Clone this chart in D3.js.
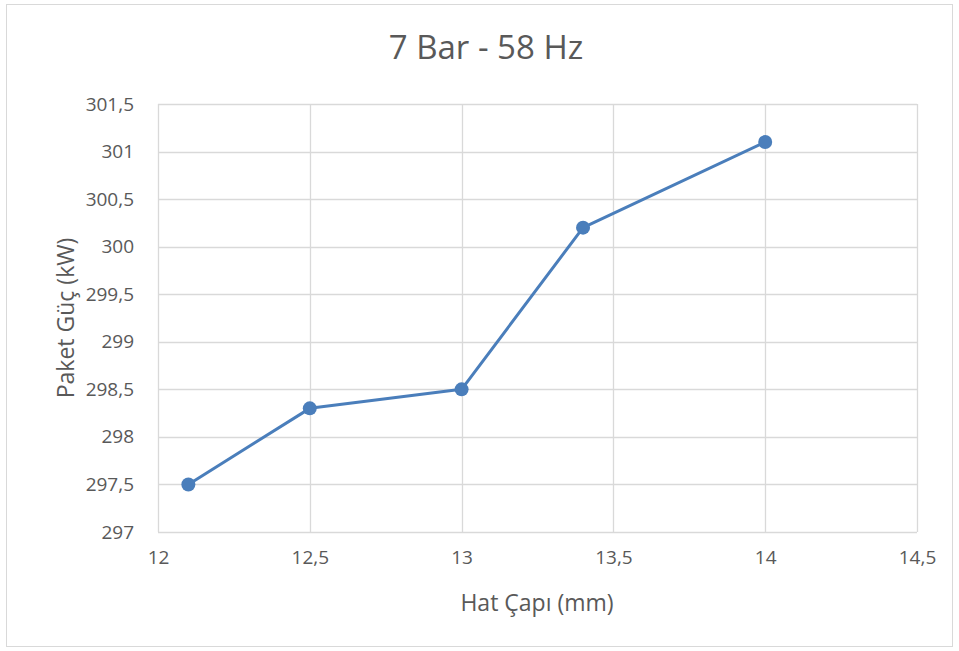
<!DOCTYPE html>
<html><head><meta charset="utf-8">
<script src="https://cdn.jsdelivr.net/npm/d3@7/dist/d3.min.js"></script>
<style>body{margin:0;background:#fff}svg{display:block}</style>
</head><body>
<script>
const xValues = [12.1, 12.5, 13, 13.4, 14];
const yValues = [297.5, 298.3, 298.5, 300.2, 301.1];
const xTicks = [12, 12.5, 13, 13.5, 14, 14.5];
const yTicks = [297, 297.5, 298, 298.5, 299, 299.5, 300, 300.5, 301, 301.5];
const title = "7 Bar - 58 Hz";
const xTitle = "Hat Çapı (mm)";
const yTitle = "Paket Güç (kW)";

const W = 959, H = 651;
const m = {left:158, right:959-917, top:104, bottom:651-532};
const font = "'Open Sans', 'Liberation Sans', sans-serif";
const fmt = d => String(d).replace('.', ',');

const svg = d3.select("body").append("svg").attr("width", W).attr("height", H);
svg.append("rect").attr("x", 6.5).attr("y", 4.5).attr("width", 946).attr("height", 642)
  .attr("fill", "#fff").attr("stroke", "#d9d9d9").attr("stroke-width", 1);

const x = d3.scaleLinear().domain([12, 14.5]).range([m.left, W - m.right]);
const y = d3.scaleLinear().domain([297, 301.5]).range([H - m.bottom, m.top]);

const g = svg.append("g");
g.selectAll(".vg").data(xTicks).join("line")
  .attr("x1", d => Math.round(x(d)) + 0.5).attr("x2", d => Math.round(x(d)) + 0.5)
  .attr("y1", y(301.5)).attr("y2", y(297)).attr("stroke", "#d9d9d9").attr("stroke-width", 1.3);
g.selectAll(".hg").data(yTicks).join("line")
  .attr("y1", d => Math.round(y(d)) + 0.5).attr("y2", d => Math.round(y(d)) + 0.5)
  .attr("x1", x(12)).attr("x2", x(14.5)).attr("stroke", "#d9d9d9").attr("stroke-width", 1.3);

const xAxis = d3.axisBottom(x).tickValues(xTicks).tickFormat(fmt).tickSize(0).tickPadding(19);
const yAxis = d3.axisLeft(y).tickValues(yTicks).tickFormat(fmt).tickSize(0).tickPadding(24);
const gx = svg.append("g").attr("transform", `translate(0,${y(297)})`).call(xAxis);
const gy = svg.append("g").attr("transform", `translate(${x(12)},0)`).call(yAxis);
[gx, gy].forEach(a => {
  a.select(".domain").remove();
  a.selectAll("text").attr("fill", "#595959").style("font-family", font).style("font-size", "19px");
});

const line = d3.line().x((d, i) => x(xValues[i])).y(d => y(d));
svg.append("path").datum(yValues).attr("d", line).attr("fill", "none")
  .attr("stroke", "#4a7ebb").attr("stroke-width", 3).attr("stroke-linejoin", "round");
svg.selectAll(".pt").data(yValues).join("circle")
  .attr("cx", (d, i) => x(xValues[i])).attr("cy", d => y(d)).attr("r", 7)
  .attr("fill", "#4a7ebb");

svg.append("text").attr("x", 486).attr("y", 59).attr("text-anchor", "middle")
  .attr("fill", "#595959").style("font-family", font).style("font-size", "33px").text(title);
svg.append("text").attr("x", 537).attr("y", 611).attr("text-anchor", "middle")
  .attr("fill", "#595959").style("font-family", font).style("font-size", "23px").text(xTitle);
svg.append("text").attr("transform", `translate(74,${(104+532)/2}) rotate(-90)`).attr("text-anchor", "middle")
  .attr("fill", "#595959").style("font-family", font).style("font-size", "23px").text(yTitle);
</script>
</body></html>
